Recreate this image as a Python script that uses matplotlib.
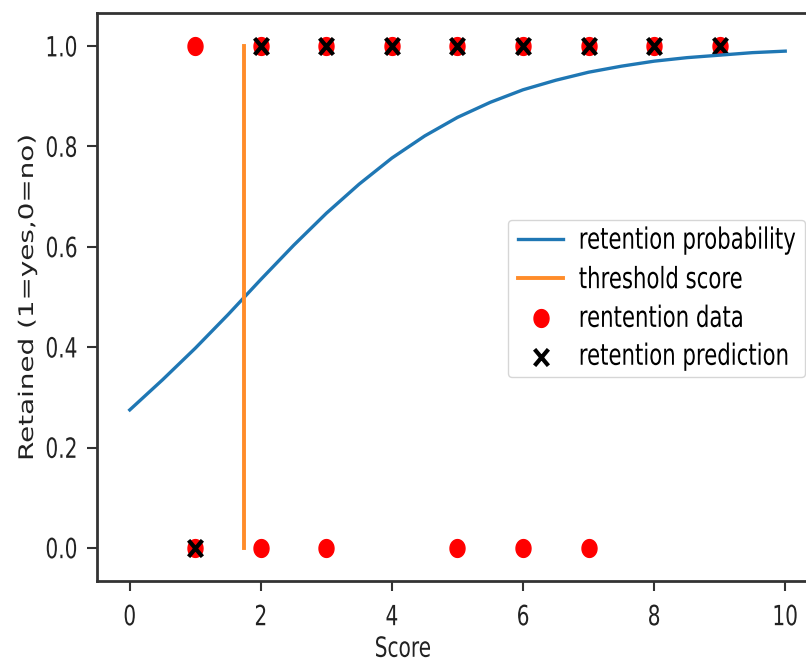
import matplotlib
matplotlib.use("Agg")
import matplotlib.pyplot as plt
from matplotlib.path import Path
from matplotlib.patheffects import AbstractPathEffect
from matplotlib.transforms import Affine2D
from matplotlib.text import Text
import numpy as np

# retention curve, every half point of score
score_grid = [0, 0.5, 1, 1.5, 2, 2.5, 3, 3.5, 4, 4.5, 5, 5.5, 6, 6.5, 7, 7.5, 8, 8.5, 9, 9.5, 10]
retention_prob = [0.275, 0.335, 0.398, 0.465, 0.535, 0.603, 0.667, 0.725, 0.777, 0.821, 0.858,
                  0.888, 0.913, 0.932, 0.948, 0.960, 0.970, 0.977, 0.982, 0.987, 0.990]

# threshold score (prob = 0.5)
threshold = 1.75
threshold_y = [0, 1]

# observed retention data
data_score = [1, 1, 2, 2, 3, 3, 4, 5, 5, 6, 6, 7, 7, 8, 9]
data_retained = [1, 0, 1, 0, 1, 0, 1, 1, 0, 1, 0, 1, 0, 1, 1]

# predicted retention
pred_score = [1, 2, 3, 4, 5, 6, 7, 8, 9]
pred_retained = [0, 1, 1, 1, 1, 1, 1, 1, 1]


class VStretch(AbstractPathEffect):
    # the reference picture is stretched up/down, so stretch the glyphs the same way
    def __init__(self, sy):
        super().__init__()
        self.sy = sy

    def draw_path(self, renderer, gc, tpath, affine, rgbFace=None):
        ext = tpath.get_extents()
        cx, cy = affine.transform_point(((ext.x0 + ext.x1) / 2, (ext.y0 + ext.y1) / 2))
        stretch = Affine2D().translate(-cx, -cy).scale(1, self.sy).translate(cx, cy)
        renderer.draw_path(gc, tpath, affine + stretch, rgbFace)


plt.rcParams['font.family'] = ['DejaVu Sans']
fs = 14.5
sy = 1.38

# stretched markers
t = np.linspace(0, 2 * np.pi, 40)
dot = Path(np.column_stack([0.42 * np.cos(t), 0.5 * np.sin(t)]), closed=True)
cross = Path([(-0.42, -0.5), (0.42, 0.5), (-0.42, 0.5), (0.42, -0.5)],
             [Path.MOVETO, Path.LINETO, Path.MOVETO, Path.LINETO])

fig = plt.figure(figsize=(8.06, 6.6), dpi=100)
ax = fig.add_axes([97 / 806, 79 / 660, (818 - 97) / 806, (581 - 13) / 660])

ax.plot(score_grid, retention_prob, color='#1f77b4', lw=2.4, label='retention probability')
ax.plot([threshold, threshold], threshold_y, color='#ff8c2a', lw=2.8, label='threshold score')
ax.scatter(data_score, data_retained, marker=dot, s=165, color='red', label='rentention data')
ax.scatter(pred_score, pred_retained, marker=cross, s=140, color='black', linewidths=3,
           label='retention prediction')

ax.set_xlim(-0.5, 10.5)
ax.set_ylim(-0.066, 1.066)
ax.set_xticks([0, 2, 4, 6, 8, 10])
ax.set_yticks([0, 0.2, 0.4, 0.6, 0.8, 1.0])
ax.set_yticklabels(['0.0', '0.2', '0.4', '0.6', '0.8', '1.0'])
ax.tick_params(labelsize=fs, length=7, width=1.5, color='#333333', labelcolor='#222222')
ax.tick_params(axis='x', pad=12)
ax.tick_params(axis='y', pad=7)
for sp in ax.spines.values():
    sp.set_linewidth(2)
    sp.set_color('#333333')

ax.set_xlabel('Score', fontsize=fs, color='#222222')
ax.set_ylabel('Retained (1=yes,0=no)', fontsize=fs, color='#222222')
ax.xaxis.set_label_coords(0.5, 1 - 639 / 660, transform=fig.transFigure)
ax.yaxis.set_label_coords(37 / 806, 0.5 * (1 - 13 / 660 + 79 / 660), transform=fig.transFigure)

leg = ax.legend(loc='center', bbox_to_anchor=(656.5 / 806, 1 - 298.5 / 660),
                bbox_transform=fig.transFigure, borderaxespad=0, fontsize=15.3,
                handlelength=2.1, handletextpad=0.75, labelspacing=0.88, borderpad=0.5,
                edgecolor='#cccccc')

fig.canvas.draw()
for txt in fig.findobj(Text):
    txt.set_path_effects([VStretch(sy)])

fig.savefig('out.png', dpi=100)
